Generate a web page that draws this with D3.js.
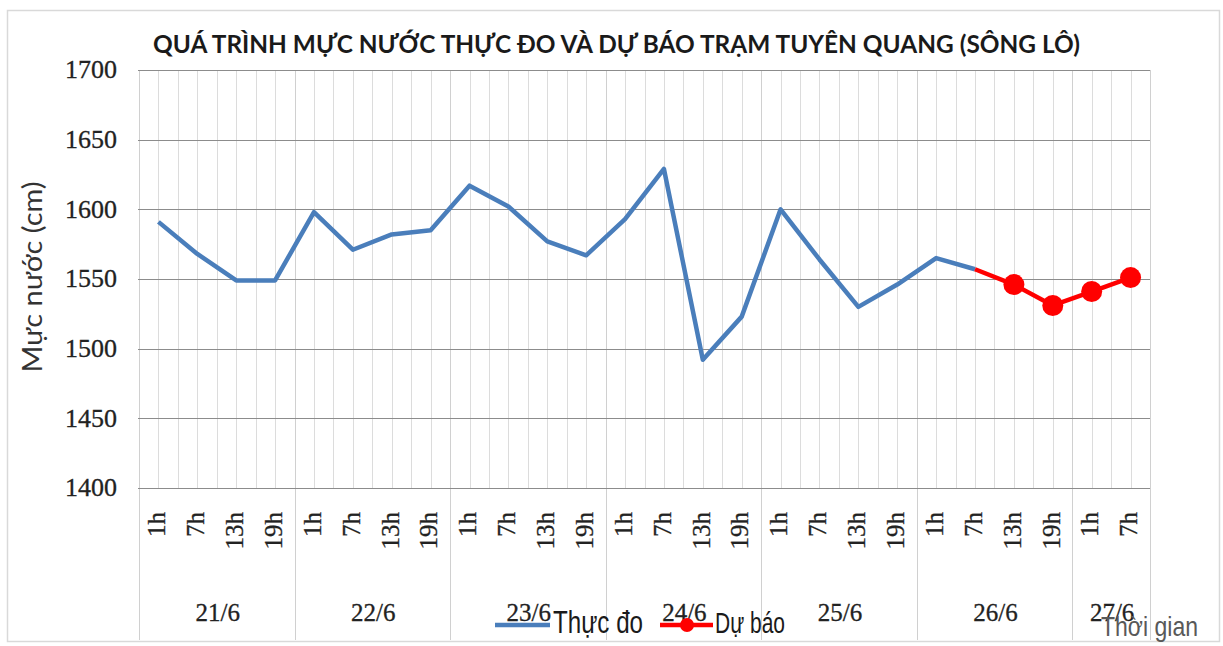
<!DOCTYPE html>
<html>
<head>
<meta charset="utf-8">
<script src="https://cdn.jsdelivr.net/npm/d3@7"></script>
<style>
  html, body { margin: 0; padding: 0; background: #fff; }
  svg { display: block; }
</style>
</head>
<body>
<svg id="chart" width="1223" height="646"></svg>
<script>
// ---------- DATA ----------
const days = ["21/6", "22/6", "23/6", "24/6", "25/6", "26/6", "27/6"];
const hoursPerDay = [["1h","7h","13h","19h"],["1h","7h","13h","19h"],["1h","7h","13h","19h"],["1h","7h","13h","19h"],["1h","7h","13h","19h"],["1h","7h","13h","19h"],["1h","7h"]];
const observed = [1591, 1568, 1549, 1549, 1598, 1571, 1582, 1585, 1617, 1602, 1577, 1567,
                  1593, 1629, 1492, 1523, 1600, 1564, 1530, 1546, 1565, 1557];
const forecastStartIndex = 21;
const forecast = [1557, 1546, 1531, 1541, 1551];
const yTicks = [1400, 1450, 1500, 1550, 1600, 1650, 1700];
const titleText = "QUÁ TRÌNH MỰC NƯỚC THỰC ĐO VÀ DỰ BÁO TRẠM TUYÊN QUANG (SÔNG LÔ)";
const yLabelText = "Mực nước (cm)";
const xLabelText = "Thời gian";
const seriesNames = ["Thực đo", "Dự báo"];

// ---------- BUILD CATEGORIES ----------
const cats = [];
days.forEach((d, di) => hoursPerDay[di].forEach(h => cats.push({ day: d, hour: h })));
const idx = d3.range(cats.length);

const svg = d3.select("#chart");
const plot = { left: 139, right: 1150, top: 70, bottom: 488 };
const x = d3.scaleBand().domain(idx).range([plot.left, plot.right]).paddingInner(0).paddingOuter(0);
const bw = x.bandwidth();
const cx = i => x(i) + bw / 2;
const y = d3.scaleLinear().domain([1400, 1700]).range([plot.bottom, plot.top]);

const blue = "#4A7EBB", red = "#FF0000";
const serif = "'Liberation Serif', 'DejaVu Serif', serif";
const sans = "'Liberation Sans', Arial, sans-serif";

// outer border
svg.append("rect").attr("x", 7.5).attr("y", 10.5).attr("width", 1212).attr("height", 631)
  .attr("fill", "#fff").attr("stroke", "#d9d9d9").attr("stroke-width", 1.5);

// vertical gridlines (category boundaries and centres)
const vg = svg.append("g");
const vpos = [];
idx.forEach(i => { vpos.push(x(i)); vpos.push(cx(i)); });
vpos.push(plot.right);
vg.selectAll("line").data(vpos).join("line")
  .attr("x1", d => Math.round(d) + 0.5).attr("x2", d => Math.round(d) + 0.5)
  .attr("y1", plot.top).attr("y2", plot.bottom)
  .attr("stroke", "#dcdcdc").attr("stroke-width", 1);

// group separators (day boundaries), extending into label area
let acc = 0;
const bounds = [0];
hoursPerDay.forEach(h => { acc += h.length; bounds.push(acc); });
svg.append("g").selectAll("line").data(bounds).join("line")
  .attr("x1", b => Math.round(b < cats.length ? x(b) : plot.right) + 0.5)
  .attr("x2", b => Math.round(b < cats.length ? x(b) : plot.right) + 0.5)
  .attr("y1", plot.top).attr("y2", 640)
  .attr("stroke", "#d0d0d0").attr("stroke-width", 1);

// horizontal gridlines
svg.append("g").selectAll("line").data(yTicks).join("line")
  .attr("x1", plot.left - 1).attr("x2", plot.right)
  .attr("y1", d => Math.round(y(d)) + 0.5).attr("y2", d => Math.round(y(d)) + 0.5)
  .attr("stroke", "#8c8c8c").attr("stroke-width", 1);

// y axis labels
const yAxis = d3.axisLeft(y).tickValues(yTicks).tickSize(0).tickPadding(0).tickFormat(d3.format("d"));
const ya = svg.append("g").attr("transform", `translate(117,0)`).call(yAxis);
ya.select(".domain").remove();
ya.selectAll("text").attr("font-family", serif).attr("font-size", 26).attr("fill", "#222")
  .attr("stroke", "#222").attr("stroke-width", 0.3)
  .attr("dy", "0.3em");

// x axis hour labels
const xAxis = d3.axisBottom(x).tickSize(0).tickFormat(i => cats[i].hour);
const xa = svg.append("g").attr("transform", `translate(0,${plot.bottom})`).call(xAxis);
xa.select(".domain").remove();
xa.selectAll("text")
  .attr("font-family", serif).attr("font-size", 25).attr("fill", "#222")
  .attr("stroke", "#222").attr("stroke-width", 0.3)
  .attr("transform", "rotate(-90)")
  .attr("x", -24).attr("y", -2).attr("dy", "0.35em")
  .attr("text-anchor", "end");

// day labels
const dayG = svg.append("g");
days.forEach((d, di) => {
  const a = bounds[di], b = bounds[di + 1];
  const xa0 = x(a), xb = b < cats.length ? x(b) : plot.right;
  dayG.append("text").attr("x", (xa0 + xb) / 2 + 1).attr("y", 621)
    .attr("text-anchor", "middle").attr("font-family", serif).attr("font-size", 25)
    .attr("fill", "#222").attr("stroke", "#222").attr("stroke-width", 0.3).text(d);
});

// observed line
const line = d3.line().x(d => cx(d.i)).y(d => y(d.v));
svg.append("path")
  .datum(observed.map((v, i) => ({ i, v })))
  .attr("d", line).attr("fill", "none").attr("stroke", blue)
  .attr("stroke-width", 4.5).attr("stroke-linejoin", "round").attr("stroke-linecap", "butt");

// forecast line
const fdata = forecast.map((v, k) => ({ i: forecastStartIndex + k, v, k }));
svg.append("path").datum(fdata).attr("d", line).attr("fill", "none").attr("stroke", red)
  .attr("stroke-width", 4.5).attr("stroke-linejoin", "round");
svg.append("g").selectAll("circle").data(fdata.filter(d => d.k > 0)).join("circle")
  .attr("cx", d => cx(d.i)).attr("cy", d => y(d.v)).attr("r", 10.5).attr("fill", red);

// title
svg.append("text").attr("x", 153).attr("y", 53)
  .attr("font-family", "Lato, 'Open Sans', sans-serif").attr("font-weight", 700)
  .attr("font-size", 24).attr("fill", "#1a1a1a")
  .attr("textLength", 927).attr("lengthAdjust", "spacingAndGlyphs")
  .text(titleText);

// y axis title
svg.append("text").attr("transform", "translate(42,277) rotate(-90)")
  .attr("text-anchor", "middle")
  .attr("font-family", "Lato, 'Open Sans', sans-serif").attr("font-size", 27)
  .attr("fill", "#333").attr("textLength", 191).attr("lengthAdjust", "spacingAndGlyphs")
  .text(yLabelText);

// legend
const lg = svg.append("g");
lg.append("line").attr("x1", 495).attr("x2", 550).attr("y1", 625).attr("y2", 625)
  .attr("stroke", blue).attr("stroke-width", 4.5);
lg.append("text").attr("x", 553).attr("y", 633).attr("font-family", sans).attr("font-size", 32)
  .attr("fill", "#1a1a1a").attr("textLength", 90).attr("lengthAdjust", "spacingAndGlyphs")
  .text(seriesNames[0]);
lg.append("line").attr("x1", 660).attr("x2", 713).attr("y1", 625).attr("y2", 625)
  .attr("stroke", red).attr("stroke-width", 4.5);
lg.append("circle").attr("cx", 687).attr("cy", 625).attr("r", 7).attr("fill", red);
lg.append("text").attr("x", 715).attr("y", 633).attr("font-family", sans).attr("font-size", 30)
  .attr("fill", "#1a1a1a").attr("textLength", 70).attr("lengthAdjust", "spacingAndGlyphs")
  .text(seriesNames[1]);

// x axis title
svg.append("text").attr("x", 1101).attr("y", 636).attr("font-family", sans).attr("font-size", 28)
  .attr("fill", "#595959").attr("textLength", 97).attr("lengthAdjust", "spacingAndGlyphs")
  .text(xLabelText);
</script>
</body>
</html>
